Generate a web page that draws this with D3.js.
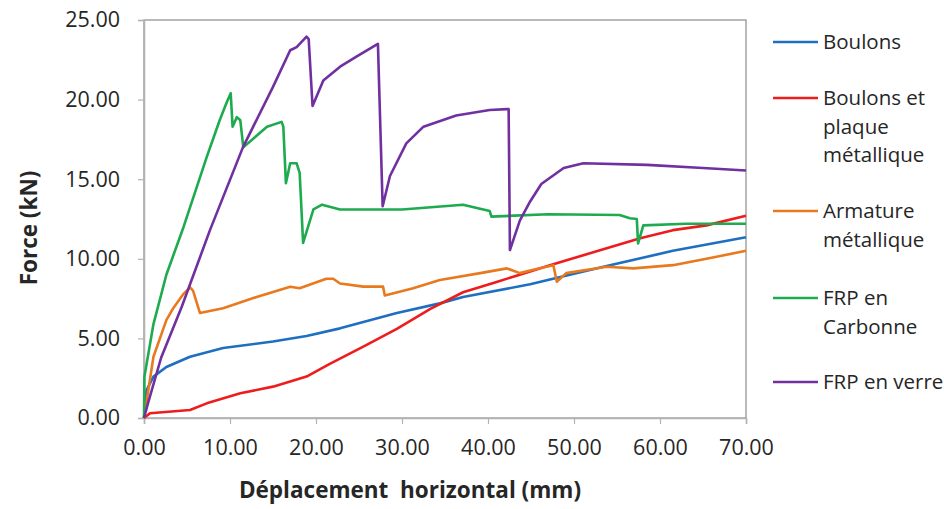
<!DOCTYPE html>
<html><head><meta charset="utf-8">
<script src="https://cdn.jsdelivr.net/npm/d3@7"></script>
<style>body{margin:0;background:#fff}svg{display:block}text{font-family:"Open Sans",sans-serif;fill:#262626}</style>
</head><body>
<script>
const seriesNames = ["Boulons", "Boulons et plaque métallique", "Armature métallique", "FRP en Carbonne", "FRP en verre"];
const legendLines = [["Boulons"], ["Boulons et", "plaque", "métallique"], ["Armature", "métallique"], ["FRP en", "Carbonne"], ["FRP en verre"]];
const seriesColors = ["#1f6fc0", "#ee1c1c", "#e8791f", "#1eaa4e", "#7030a0"];
const xTicks = [0, 10, 20, 30, 40, 50, 60, 70];
const yTicks = [0, 5, 10, 15, 20, 25];

const boulons = [[0,0],[0.3,1.75],[1.1,2.6],[2.6,3.2],[5.35,3.85],[9.2,4.4],[15,4.8],[18.9,5.15],[22.8,5.63],[29.4,6.6],[34.4,7.2],[37.1,7.6],[44.9,8.4],[47.2,8.7],[53.8,9.55],[61.5,10.5],[70,11.35]];
const boulonsPlaque = [[0,0],[0.7,0.3],[5.35,0.5],[7.3,0.92],[11.2,1.55],[15,1.97],[18.9,2.6],[21.6,3.4],[25.5,4.48],[29.4,5.6],[33.3,6.85],[37.1,7.9],[41,8.55],[44.9,9.2],[47.2,9.6],[53.8,10.66],[57.7,11.29],[61.5,11.8],[65.4,12.1],[70,12.7]];
const armature = [[0,0],[1.1,3.85],[2.6,6.15],[3.4,6.9],[4.6,7.8],[5.35,8.2],[5.7,8.0],[6.5,6.6],[9.2,6.9],[13.1,7.6],[17,8.25],[18.1,8.15],[21.2,8.75],[22,8.75],[22.8,8.45],[25.5,8.25],[27.8,8.25],[28,7.7],[31.3,8.15],[34.4,8.67],[39.1,9.1],[42.2,9.4],[43.7,9.1],[46,9.4],[47.6,9.6],[48,8.56],[49.1,9.1],[53.8,9.5],[56.9,9.4],[61.5,9.6],[65.4,10.0],[70,10.5]];
const frpCarbonne = [[0,0],[0.05,2.6],[1.1,5.9],[2.6,9.0],[4.6,12.0],[7.3,16.4],[8.8,18.7],[9.6,19.8],[10.08,20.4],[10.3,18.3],[10.8,18.9],[11.2,18.7],[11.55,17.0],[14.3,18.3],[16.0,18.6],[16.2,18.3],[16.5,14.75],[17.0,16.0],[17.75,16.0],[18.1,15.4],[18.5,11.0],[19.7,13.1],[20.7,13.4],[22.8,13.1],[30,13.1],[37.1,13.4],[40.2,13.0],[40.4,12.65],[47,12.8],[55.3,12.75],[56.5,12.55],[57.3,12.5],[57.45,10.97],[58.06,12.1],[63,12.2],[70,12.2]];
const frpVerre = [[0,0],[0.5,1.0],[2,3.8],[4.4,7.0],[7.67,11.8],[11.5,17.0],[15,20.8],[17,23.1],[17.75,23.3],[18.9,23.95],[19.15,23.8],[19.6,19.6],[20.85,21.2],[22.8,22.07],[24.7,22.7],[26.9,23.4],[27.2,23.5],[27.75,13.3],[28.6,15.2],[30.5,17.25],[32.5,18.3],[36.3,19.0],[40.2,19.35],[42.2,19.4],[42.4,19.4],[42.55,10.55],[43.7,12.4],[44.9,13.6],[46.2,14.7],[48.8,15.7],[51.1,16.0],[58.5,15.9],[65,15.7],[70,15.55]];
const allSeries = [boulons, boulonsPlaque, armature, frpCarbonne, frpVerre];

const W = 944, H = 509;
const m = {left:144, right:198, top:20, bottom:91};
const svg = d3.select("body").append("svg").attr("width", W).attr("height", H);
const x = d3.scaleLinear().domain([0, 70]).range([m.left, W - m.right]);
const y = d3.scaleLinear().domain([0, 25]).range([H - m.bottom, m.top]);

// plot frame
svg.append("rect").attr("x", x(0)).attr("y", y(25)).attr("width", x(70) - x(0)).attr("height", y(0) - y(25))
  .attr("fill", "none").attr("stroke", "#8c8c8c").attr("stroke-width", 1.2);

const fmt = d3.format(".2f");
const yAxis = svg.append("g").attr("transform", `translate(${x(0)},0)`)
  .call(d3.axisLeft(y).tickValues(yTicks).tickFormat(fmt).tickSize(6).tickPadding(18));
const xAxis = svg.append("g").attr("transform", `translate(0,${y(0)})`)
  .call(d3.axisBottom(x).tickValues(xTicks).tickFormat(fmt).tickSize(6).tickPadding(16));
[yAxis, xAxis].forEach(g => {
  g.selectAll("path.domain").attr("stroke", "#b3b3b3").attr("stroke-width", 1.6);
  g.selectAll(".tick line").attr("stroke", "#b3b3b3").attr("stroke-width", 1.2);
  g.selectAll("text").attr("font-size", 21.5).attr("fill", "#262626").attr("font-family", '"Open Sans",sans-serif');
});

const line = d3.line().x(d => x(d[0])).y(d => y(d[1]));
allSeries.forEach((s, i) => {
  svg.append("path").datum(s).attr("d", line)
    .attr("fill", "none").attr("stroke", seriesColors[i]).attr("stroke-width", 2.6)
    .attr("stroke-linejoin", "round");
});

// axis titles
svg.append("text").attr("x", 410).attr("y", 498).attr("text-anchor", "middle")
  .attr("font-size", 22.5).attr("font-weight", "bold").attr("xml:space", "preserve")
  .style("white-space", "pre").text("Déplacement  horizontal (mm)");
svg.append("text").attr("transform", "translate(37,228) rotate(-90)").attr("text-anchor", "middle")
  .attr("font-size", 22.5).attr("font-weight", "bold").text("Force (kN)");

// legend
const legendY = [42, 98, 211, 298, 382];
const lg = svg.append("g");
legendLines.forEach((lines, i) => {
  lg.append("line").attr("x1", 773).attr("x2", 818).attr("y1", legendY[i]).attr("y2", legendY[i])
    .attr("stroke", seriesColors[i]).attr("stroke-width", 2.6);
  lines.forEach((t, j) => {
    lg.append("text").attr("x", 823).attr("y", legendY[i] + 7 + j * 28.5)
      .attr("font-size", 20.5).text(t);
  });
});
</script>
</body></html>
